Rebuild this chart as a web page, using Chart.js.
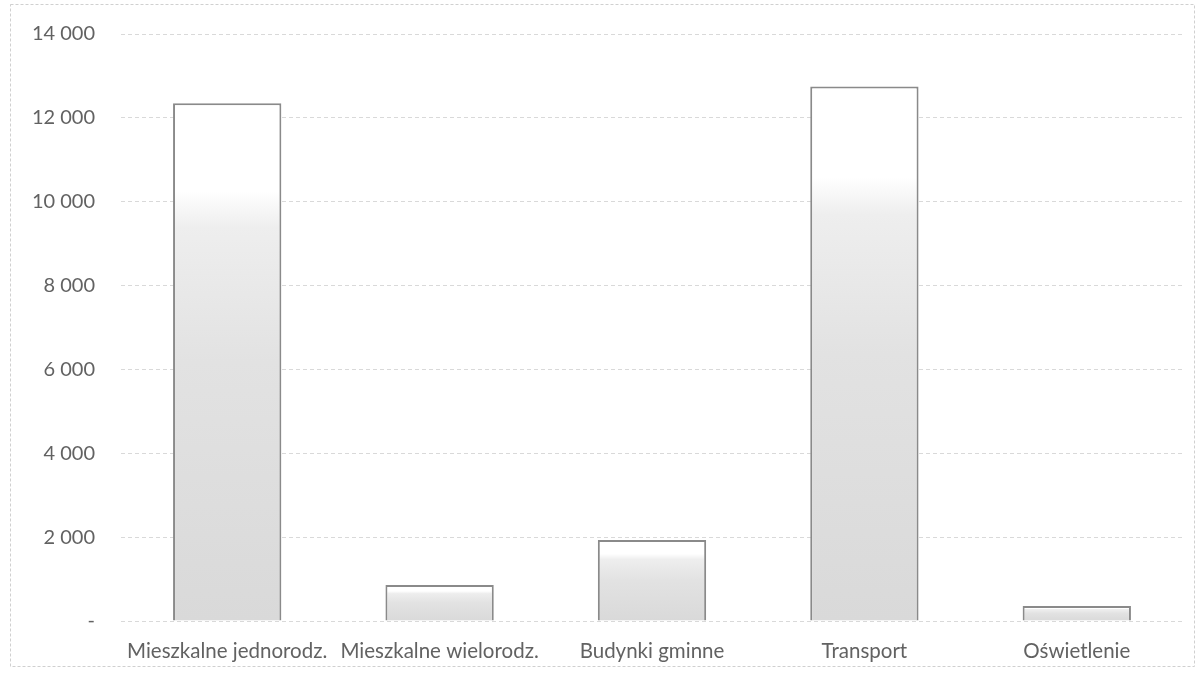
<!DOCTYPE html>
<html>
<head>
<meta charset="utf-8">
<script src="https://cdn.jsdelivr.net/npm/chart.js@4"></script>
<style>
  html, body { margin: 0; padding: 0; background: #ffffff; }
  #wrap { width: 1201px; height: 676px; position: relative; }
</style>
</head>
<body>
<div id="wrap"><canvas id="c" width="1201" height="676"></canvas></div>
<script>
// Emisje według sektorów
const categories = ['Mieszkalne jednorodz.', 'Mieszkalne wielorodz.', 'Budynki gminne', 'Transport', 'Oświetlenie'];
const values = [12350, 860, 1930, 12750, 360];
const yTicks = [0, 2000, 4000, 6000, 8000, 10000, 12000, 14000];

const TEXT = '#626262';
const FONT = 'Lato, "Liberation Sans", sans-serif';

function fmt(v) {
  if (v === 0) return '-';
  return String(v).replace(/\B(?=(\d{3})+(?!\d))/g, ' ');
}

// gray at the base fading to white near the top of each bar
function barFill(ctx) {
  const chart = ctx.chart;
  if (!chart.chartArea || ctx.raw == null) return '#e0e0e0';
  const y = chart.scales.y;
  const base = y.getPixelForValue(0);
  const top = y.getPixelForValue(ctx.raw);
  const g = chart.ctx.createLinearGradient(0, base, 0, top);
  g.addColorStop(0, '#d9d9d9');
  g.addColorStop(0.5, '#e2e2e2');
  g.addColorStop(0.76, '#eeeeee');
  g.addColorStop(0.83, '#ffffff');
  g.addColorStop(1, '#ffffff');
  return g;
}

const frame = {
  id: 'frame',
  beforeDraw(chart) {
    const c = chart.ctx;
    c.save();
    c.strokeStyle = '#d0d0d0';
    c.lineWidth = 1;
    c.setLineDash([3, 2]);
    c.strokeRect(10.5, 4.5, 1184, 662);
    c.restore();
  }
};

new Chart(document.getElementById('c'), {
  type: 'bar',
  data: {
    labels: categories,
    datasets: [{
      data: values,
      backgroundColor: barFill,
      borderColor: '#8a8a8a',
      borderWidth: 2,
      borderSkipped: 'bottom',
      categoryPercentage: 1,
      barPercentage: 0.51
    }]
  },
  options: {
    responsive: false,
    animation: false,
    layout: { padding: { top: 34, right: 18, bottom: 0, left: 0 } },
    plugins: { legend: { display: false }, tooltip: { enabled: false } },
    scales: {
      x: {
        grid: { display: false, drawTicks: false },
        border: { display: false },
        ticks: { color: TEXT, font: { family: FONT, size: 20.5 }, padding: 18, maxRotation: 0, autoSkip: false },
        afterFit(s) { s.height = 55; }
      },
      y: {
        min: 0,
        max: 14000,
        afterBuildTicks(s) { s.ticks = yTicks.map(v => ({ value: v })); },
        grid: { color: '#d9d9d9', lineWidth: 1, drawTicks: false },
        border: { display: false, dash: [4, 3] },
        ticks: { color: TEXT, font: { family: FONT, size: 20 }, padding: 26, callback: v => fmt(v) },
        afterFit(s) { s.width = 121; s.paddingTop = 0; s.paddingBottom = 0; }
      }
    }
  },
  plugins: [frame]
});
</script>
</body>
</html>
